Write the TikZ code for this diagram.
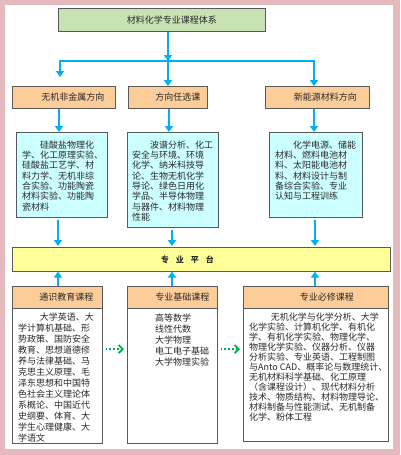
\documentclass[tikz,border=0pt]{standalone}
\usepackage{fontspec}
\usepackage{tikz}
\usetikzlibrary{positioning,arrows.meta}
\newfontfamily\cjk{Noto Sans CJK SC}
\newfontfamily\cjkbold{Noto Sans CJK SC}[FakeBold=2.5]
\definecolor{framepink}{RGB}{230,186,188}
\definecolor{titlegreen}{RGB}{200,226,180}
\definecolor{headorange}{RGB}{252,204,153}
\definecolor{listcyan}{RGB}{204,255,255}
\definecolor{baseyellow}{RGB}{255,255,153}
\definecolor{flowblue}{RGB}{0,176,240}
\definecolor{dotgreen}{RGB}{0,176,80}
\definecolor{boxline}{RGB}{90,90,90}
\definecolor{textgray}{RGB}{40,40,40}
\tikzset{
  boxframe/.style  = {draw=boxline, line width=0.6pt, inner sep=0pt, anchor=north west,
                      text=textgray},
  titlenode/.style = {boxframe, fill=titlegreen, font=\cjk\fontsize{9}{11}\selectfont},
  dirnode/.style   = {boxframe, fill=headorange, minimum height=22pt,
                      font=\cjk\fontsize{9}{11}\selectfont},
  cyannode/.style  = {boxframe, fill=listcyan},
  platnode/.style  = {boxframe, fill=baseyellow, font=\cjkbold\fontsize{8}{10}\selectfont},
  whitenode/.style = {boxframe, fill=white},
  listtext/.style  = {inner sep=0pt, align=left, anchor=north west, text=textgray,
                      font=\cjk\fontsize{9}{10.3}\selectfont},
  flow/.style      = {-{Triangle[length=6pt,width=8pt]}, line width=2pt, flowblue},
  busline/.style   = {line width=2pt, flowblue, line cap=rect},
  dotflow/.style   = {-{Straight Barb[length=4pt,width=8pt]}, line width=1.8pt,
                      dotgreen, dotted, shorten <=3pt, shorten >=3pt}
}

\begin{document}
\begin{tikzpicture}[x=1pt, y=-1pt]
  \useasboundingbox (0,0) rectangle (400,455);
  % ---- frame ----
  \fill[framepink] (0,0) rectangle (400,455);
  \fill[white] (5,5) rectangle (393,449);
  % ---- title ----
  \node[titlenode, minimum width=207pt, minimum height=23pt] (title) at (58,8)
       {\hspace*{20pt}材料化学专业课程体系};
  % ---- directions ----
  \node[dirnode, minimum width=103pt] (dir1) at (12,86)  {\hspace*{18pt}无机非金属方向};
  \node[dirnode, minimum width=79pt]  (dir2) at (128,86) {\hspace*{20pt}方向任选课};
  \node[dirnode, minimum width=104pt] (dir3) at (265,86) {\hspace*{16pt}新能源材料方向};
  % ---- direction courses ----
  \node[cyannode, minimum width=91pt, minimum height=85pt] (blue1) at (16,132)  {};
  \node[cyannode, minimum width=91pt, minimum height=95pt] (blue2) at (127,132) {};
  \node[cyannode, minimum width=93pt, minimum height=85pt] (blue3) at (269,132) {};
  \node[listtext, below right=8.5pt and 6pt of blue1.north west] (blue1txt)
       {\hspace*{2em}硅酸盐物理化\\学、化工原理实验、\\硅酸盐工艺学、材\\料力学、无机非综\\合实验、功能陶瓷\\材料实验、功能陶\\瓷材料};
  \node[listtext, below right=8.5pt and 5pt of blue2.north west] (blue2txt)
       {\hspace*{2em}波谱分析、化工\\安全与环境、环境\\化学、纳米科技导\\论、生物无机化学\\导论、绿色日用化\\学品、半导体物理\\与器件、材料物理\\性能};
  \node[listtext, below right=8.5pt and 6pt of blue3.north west] (blue3txt)
       {\hspace*{2em}化学电源、储能\\材料、燃料电池材\\料、太阳能电池材\\料、材料设计与制\\备综合实验、专业\\认知与工程训练};
  % ---- platform ----
  \node[platnode, minimum width=378pt, minimum height=24pt] (plat) at (12,247)
       {专\hspace{7pt}业\hspace{7pt}平\hspace{7pt}台\hspace*{28pt}};
  % ---- course groups ----
  \node[dirnode, minimum width=90pt]  (hdr1) at (12,286)  {\hspace*{18pt}通识教育课程};
  \node[dirnode, minimum width=90pt]  (hdr2) at (127,286) {\hspace*{20pt}专业基础课程};
  \node[dirnode, minimum width=145pt] (hdr3) at (243,286) {\hspace*{22pt}专业必修课程};
  \node[whitenode, minimum width=90pt,  minimum height=135pt] (list1) at (12,308)  {};
  \node[whitenode, minimum width=90pt,  minimum height=135pt] (list2) at (127,308) {};
  \node[whitenode, minimum width=145pt, minimum height=133pt] (list3) at (243,308) {};
  \node[listtext, font=\cjk\fontsize{9}{11}\selectfont,
        below right=4.5pt and 6pt of list1.north west] (list1txt)
       {\hspace*{2.4em}大学英语、大\\学计算机基础、形\\势政策、国防安全\\教育、思想道德修\\养与法律基础、马\\克思主义原理、毛\\泽东思想和中国特\\色社会主义理论体\\系概论、中国近代\\史纲要、体育、大\\学生心理健康、大\\学语文};
  \node[listtext, font=\cjk\fontsize{9}{11}\selectfont,
        below right=5.5pt and 28pt of list2.north west] (list2txt)
       {高等数学\\线性代数\\大学物理\\电工电子基础\\大学物理实验};
  \node[listtext, font=\cjk\fontsize{9}{10}\selectfont,
        below right=4.5pt and 6pt of list3.north west] (list3txt)
       {\hspace*{2.4em}无机化学与化学分析、大学\\化学实验、计算机化学、有机化\\学、有机化学实验、物理化学、\\物理化学实验、仪器分析、仪器\\分析实验、专业英语、工程制图\\与Anto CAD、概率论与数理统计、\\无机材料科学基础、化工原理\\（含课程设计）、现代材料分析\\技术、物质结构、材料物理导论、\\材料制备与性能测试、无机制备\\化学、粉体工程};
  % ---- arrow columns ----
  \coordinate (busL) at (60,61);
  \coordinate (busM) at (168,61);
  \coordinate (busR) at (314,61);
  \coordinate (dropL) at (60,77);
  \coordinate (colA) at (59,0);
  \coordinate (colB) at (169,0);
  \coordinate (colC) at (314,0);
  \coordinate (colD) at (58,0);
  \coordinate (colE) at (172,0);
  \coordinate (colF) at (315,0);
  \coordinate (midrow) at (0,349);
  % ---- connectors ----
  \draw[flow] (title.south -| busM) -- (busM);
  \draw[busline] (busL) -- (busR);
  \draw[flow] (busL) -- (dropL);
  \draw[flow] (busM) -- (dir2.north -| busM);
  \draw[flow] (busR) -- (dir3.north -| busR);
  \draw[flow] (dir1.south -| colA) -- (blue1.north -| colA);
  \draw[flow] (dir2.south -| colB) -- (blue2.north -| colB);
  \draw[flow] (dir3.south -| colC) -- (blue3.north -| colC);
  \draw[flow, shorten <=2pt, shorten >=1pt] (blue1.south -| colD) -- (plat.north -| colD);
  \draw[flow, shorten <=2pt, shorten >=1pt] (blue2.south -| colE) -- (plat.north -| colE);
  \draw[flow, shorten <=2pt, shorten >=1pt] (blue3.south -| colF) -- (plat.north -| colF);
  \draw[flow] (hdr1.north -| colD) -- (plat.south -| colD);
  \draw[flow] (hdr2.north -| colE) -- (plat.south -| colE);
  \draw[flow] (hdr3.north -| colF) -- (plat.south -| colF);
  \draw[dotflow] (list1.east |- midrow) -- (list2.west |- midrow);
  \draw[dotflow] (list2.east |- midrow) -- (list3.west |- midrow);
\end{tikzpicture}
\end{document}
